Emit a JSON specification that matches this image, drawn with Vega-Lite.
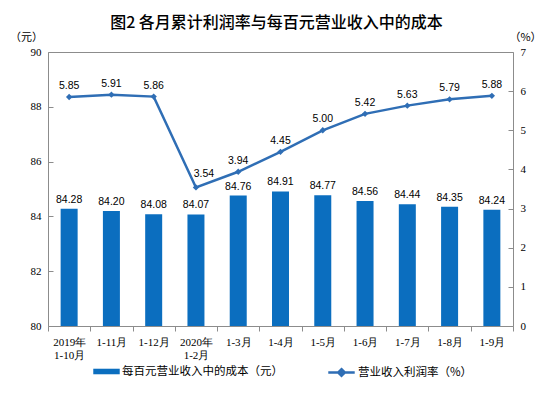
{
  "$schema": "https://vega.github.io/schema/vega-lite/v6.json",
  "width": 465,
  "height": 274,
  "autosize": {"type": "none"},
  "padding": {"left": 48, "top": 52, "right": 44, "bottom": 75},
  "background": "white",
  "title": {"text": "图2 各月累计利润率与每百元营业收入中的成本", "font": "Noto Sans CJK SC", "fontSize": 16, "fontWeight": 500, "color": "#000000", "anchor": "middle", "offset": 0, "dx": -4},
  "config": {"view": {"stroke": "#8c8c8c", "strokeWidth": 1}},
  "data": {"values": [
    {"month": "2019年|1-10月", "cost": 84.28, "rate": 5.85},
    {"month": "1-11月", "cost": 84.20, "rate": 5.91},
    {"month": "1-12月", "cost": 84.08, "rate": 5.86},
    {"month": "2020年|1-2月", "cost": 84.07, "rate": 3.54},
    {"month": "1-3月", "cost": 84.76, "rate": 3.94},
    {"month": "1-4月", "cost": 84.91, "rate": 4.45},
    {"month": "1-5月", "cost": 84.77, "rate": 5.00},
    {"month": "1-6月", "cost": 84.56, "rate": 5.42},
    {"month": "1-7月", "cost": 84.44, "rate": 5.63},
    {"month": "1-8月", "cost": 84.35, "rate": 5.79},
    {"month": "1-9月", "cost": 84.24, "rate": 5.88}
  ]},
  "encoding": {
    "x": {"field": "month", "type": "nominal", "sort": null, "title": null,
      "scale": {"paddingInner": 0, "paddingOuter": 0},
      "axis": {"labelExpr": "isString(datum.value) ? split(datum.value, '|') : ''", "labelAngle": 0, "labelFont": "Liberation Serif", "labelFontSize": 11, "labelColor": "#000000", "labelLineHeight": 13, "labelPadding": 5, "tickBand": "extent", "tickSize": 5, "tickColor": "#8c8c8c", "domain": false, "grid": false}}
  },
  "layer": [
    {
      "encoding": {
        "y": {"field": "cost", "type": "quantitative", "scale": {"domain": [80, 90], "zero": false},
          "axis": {"values": [80, 82, 84, 86, 88, 90], "title": "（元）", "titleAngle": 0, "titleX": -22, "titleY": -15, "titleAlign": "center", "titleBaseline": "middle", "titleFont": "Noto Sans CJK SC", "titleFontWeight": "normal", "titleFontSize": 11, "titleColor": "#000000", "labelFont": "Liberation Serif", "labelFontSize": 11, "labelColor": "#000000", "tickSize": -5, "tickColor": "#8c8c8c", "labelPadding": 12, "domain": false, "grid": false}}
      },
      "layer": [
        {"mark": {"type": "bar", "size": 17, "color": "#0b6ebf"},
         "encoding": {
           "y2": {"datum": 80},
           "fill": {"datum": "每百元营业收入中的成本（元）", "type": "nominal", "scale": {"range": ["#0b6ebf"]},
             "legend": {"orient": "none", "legendX": 45, "legendY": 306, "title": null, "symbolType": "M-1,-0.21H1V0.21H-1Z", "symbolSize": 700, "symbolStrokeWidth": 0, "labelFont": "Noto Sans CJK SC", "labelFontSize": 11.5, "labelColor": "#000000", "labelOffset": 2, "labelLimit": 400}}
         }},
        {"mark": {"type": "text", "baseline": "bottom", "dy": -4, "font": "Liberation Sans", "fontSize": 10.5, "color": "#000000"},
         "encoding": {
           "text": {"field": "cost", "type": "quantitative", "format": ".2f"}
         }}
      ]
    },
    {
      "encoding": {
        "y": {"field": "rate", "type": "quantitative", "scale": {"domain": [0, 7]},
          "axis": {"orient": "right", "values": [0, 1, 2, 3, 4, 5, 6, 7], "labelOverlap": false, "title": "（%）", "titleAngle": 0, "titleX": 12, "titleY": -15, "titleAlign": "center", "titleBaseline": "middle", "titleFont": "Noto Sans CJK SC", "titleFontWeight": "normal", "titleFontSize": 11, "titleColor": "#000000", "labelFont": "Liberation Serif", "labelFontSize": 11, "labelColor": "#000000", "tickSize": -5, "tickColor": "#8c8c8c", "labelPadding": 12, "domain": false, "grid": false}}
      },
      "layer": [
        {"mark": {"type": "line", "strokeWidth": 2.5},
         "encoding": {
           "stroke": {"datum": "营业收入利润率（%）", "type": "nominal", "scale": {"range": ["#2f6eb5"]},
             "legend": {"orient": "none", "legendX": 279, "legendY": 306, "title": null, "symbolType": "M-1,0H1M0,-0.25L0.25,0L0,0.25L-0.25,0Z", "symbolSize": 700, "symbolStrokeWidth": 2.5, "symbolFillColor": "#2f6eb5", "labelFont": "Noto Sans CJK SC", "labelFontSize": 11.5, "labelColor": "#000000", "labelOffset": 2, "labelLimit": 400}}
         }},
        {"mark": {"type": "point", "shape": "diamond", "size": 40, "filled": true, "color": "#2f6eb5", "opacity": 1}},
        {"transform": [{"filter": "datum.month != '2020年|1-2月'"}],
         "mark": {"type": "text", "baseline": "bottom", "dy": -6, "font": "Liberation Sans", "fontSize": 10.5, "color": "#000000"},
         "encoding": {
           "text": {"field": "rate", "type": "quantitative", "format": ".2f"}
         }},
        {"transform": [{"filter": "datum.month == '2020年|1-2月'"}],
         "mark": {"type": "text", "baseline": "bottom", "dy": -8, "dx": 8, "font": "Liberation Sans", "fontSize": 10.5, "color": "#000000"},
         "encoding": {
           "text": {"field": "rate", "type": "quantitative", "format": ".2f"}
         }}
      ]
    }
  ],
  "resolve": {"scale": {"y": "independent", "fill": "independent", "stroke": "independent"}}
}
